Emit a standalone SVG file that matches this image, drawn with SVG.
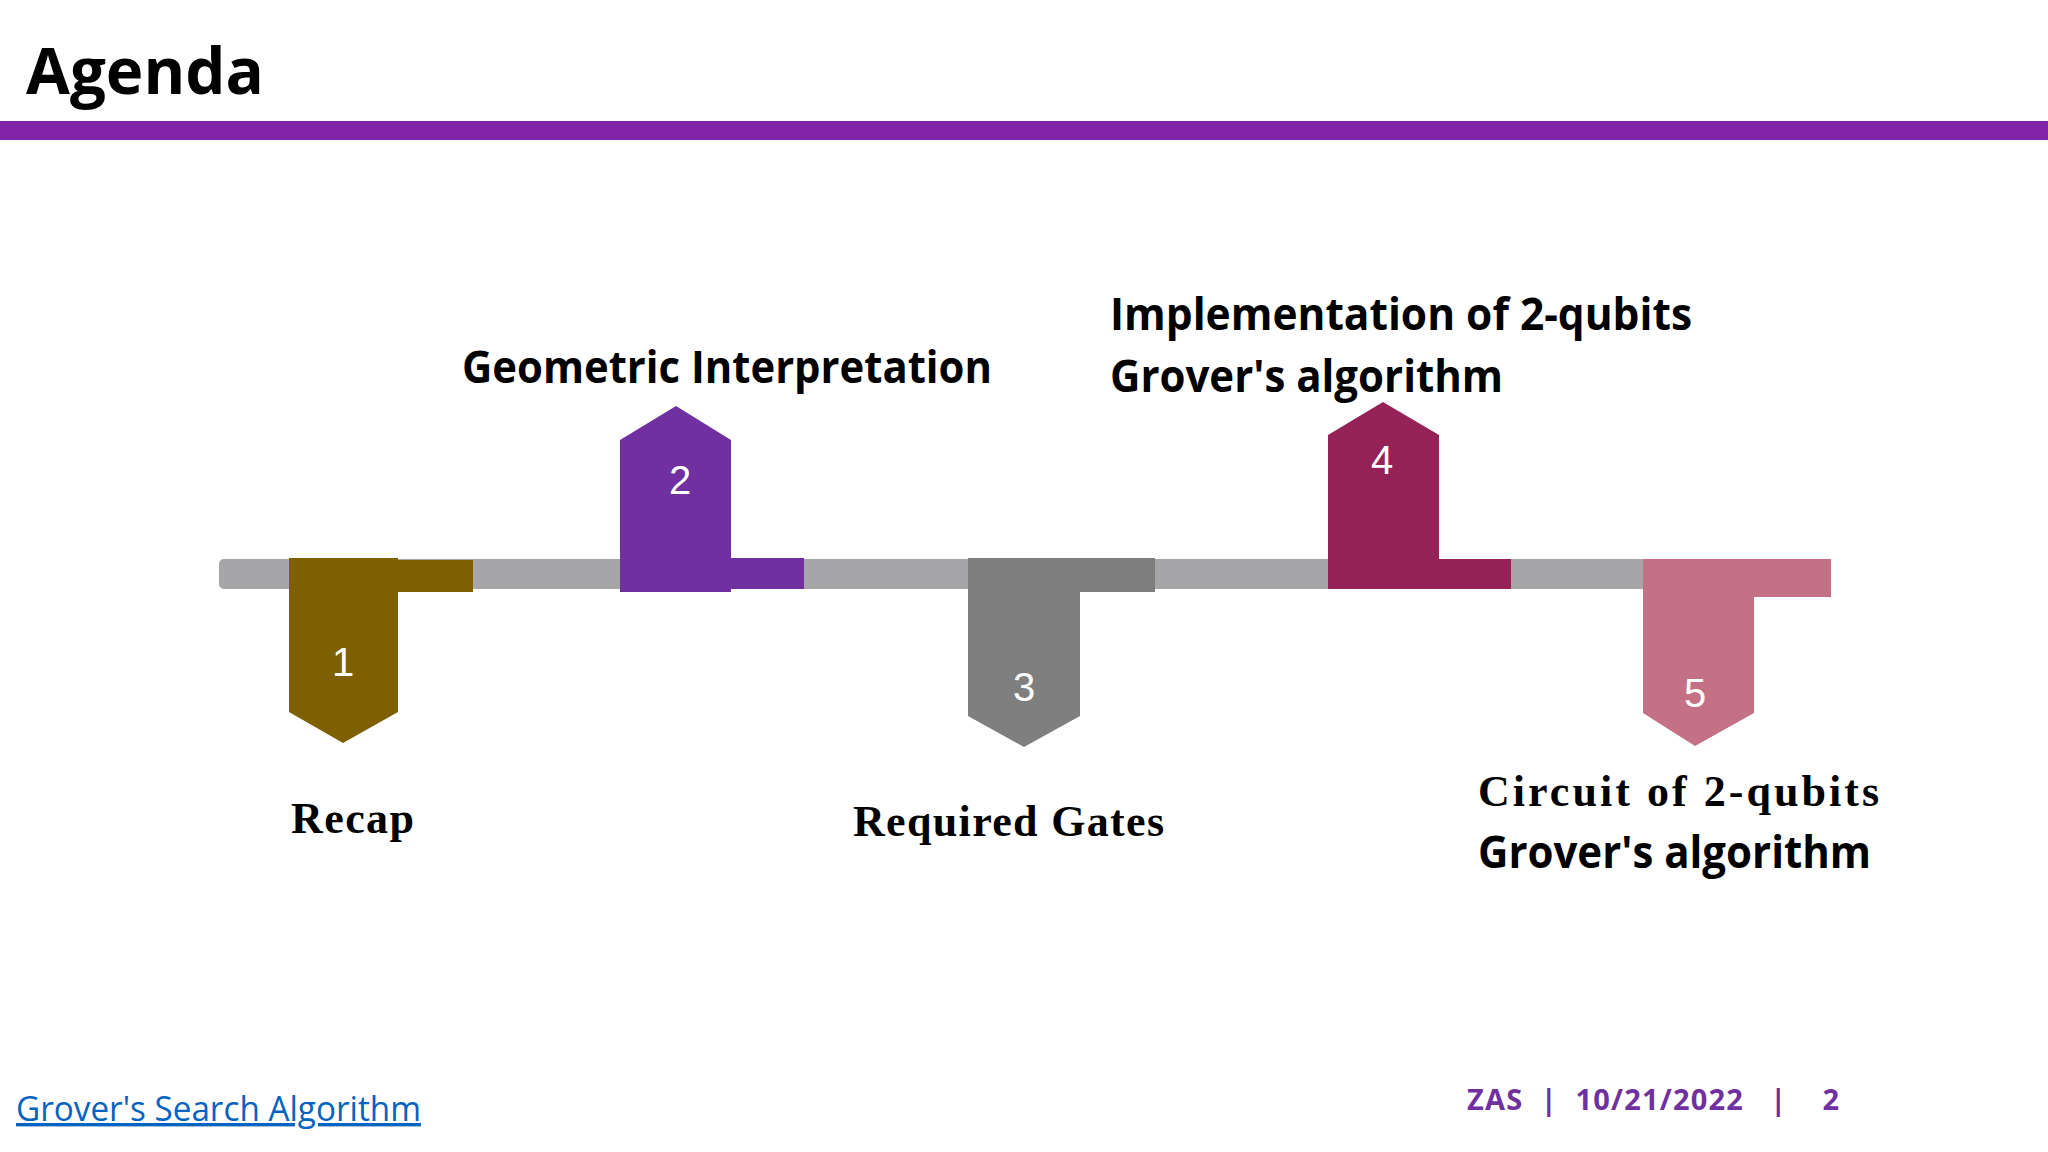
<svg xmlns="http://www.w3.org/2000/svg" width="2048" height="1152" viewBox="0 0 2048 1152">
<style>
.s{font-family:"Open Sans","Noto Sans",sans-serif;font-weight:bold;fill:#000}
.r{font-family:"Liberation Serif",serif;font-weight:bold;fill:#000;font-size:44px}
.n{font-family:"Liberation Sans",sans-serif;fill:#fff;font-size:40px;text-anchor:middle}
</style>
<rect width="2048" height="1152" fill="#fff"/>
<text class="s" x="26" y="94" font-size="64" textLength="238" lengthAdjust="spacingAndGlyphs">Agenda</text>
<rect x="0" y="121" width="2048" height="19" fill="#8224A8"/>
<g id="connectors">
<rect x="219" y="559" width="1610" height="30" rx="5" fill="#A6A5A7"/>
</g>
<g id="m1">
<rect x="398" y="560" width="75" height="32" fill="#7F6000"/>
<polygon points="289,558 398,558 398,712 343,743 289,712" fill="#7F6000"/>
<text class="n" x="343" y="676">1</text>
</g>
<g id="m2">
<rect x="731" y="558" width="73" height="31" fill="#7030A0"/>
<polygon points="620,592 620,440 676,406 731,440 731,592" fill="#7030A0"/>
<text class="n" x="680" y="494">2</text>
</g>
<g id="m3">
<rect x="1080" y="558" width="75" height="34" fill="#7F7F7F"/>
<polygon points="968,558 1080,558 1080,716 1024,747 968,716" fill="#7F7F7F"/>
<text class="n" x="1024" y="701">3</text>
</g>
<g id="m4">
<rect x="1439" y="559" width="72" height="30" fill="#942256"/>
<polygon points="1328,589 1328,435 1383,402 1439,435 1439,589" fill="#942256"/>
<text class="n" x="1382" y="474">4</text>
</g>
<g id="m5">
<rect x="1754" y="559" width="77" height="38" fill="#C47085"/>
<polygon points="1643,559 1754,559 1754,713 1695,746 1643,713" fill="#C47085"/>
<text class="n" x="1695" y="707">5</text>
</g>
<g id="labels">
<text class="r" x="291" y="833" textLength="123">Recap</text>
<text class="s" x="462" y="383" font-size="44" textLength="530" lengthAdjust="spacingAndGlyphs">Geometric Interpretation</text>
<text class="r" x="853" y="836" textLength="311">Required Gates</text>
<text class="s" x="1110" y="330" font-size="44" textLength="582" lengthAdjust="spacingAndGlyphs">Implementation of 2-qubits</text>
<text class="s" x="1110" y="392" font-size="44" textLength="393" lengthAdjust="spacingAndGlyphs">Grover's algorithm</text>
<text class="r" x="1478" y="806" textLength="401">Circuit of 2-qubits</text>
<text class="s" x="1478" y="868" font-size="44" textLength="393" lengthAdjust="spacingAndGlyphs">Grover's algorithm</text>
</g>
<text x="16" y="1121" font-family="Open Sans,sans-serif" font-size="34" fill="#0563C1" text-decoration="underline" textLength="405" lengthAdjust="spacingAndGlyphs">Grover's Search Algorithm</text>
<text x="1467" y="1110" font-family="Open Sans,sans-serif" font-weight="bold" font-size="29" fill="#7030A0" xml:space="preserve" textLength="372" lengthAdjust="spacing">ZAS  |  10/21/2022   |    2</text>
</svg>
